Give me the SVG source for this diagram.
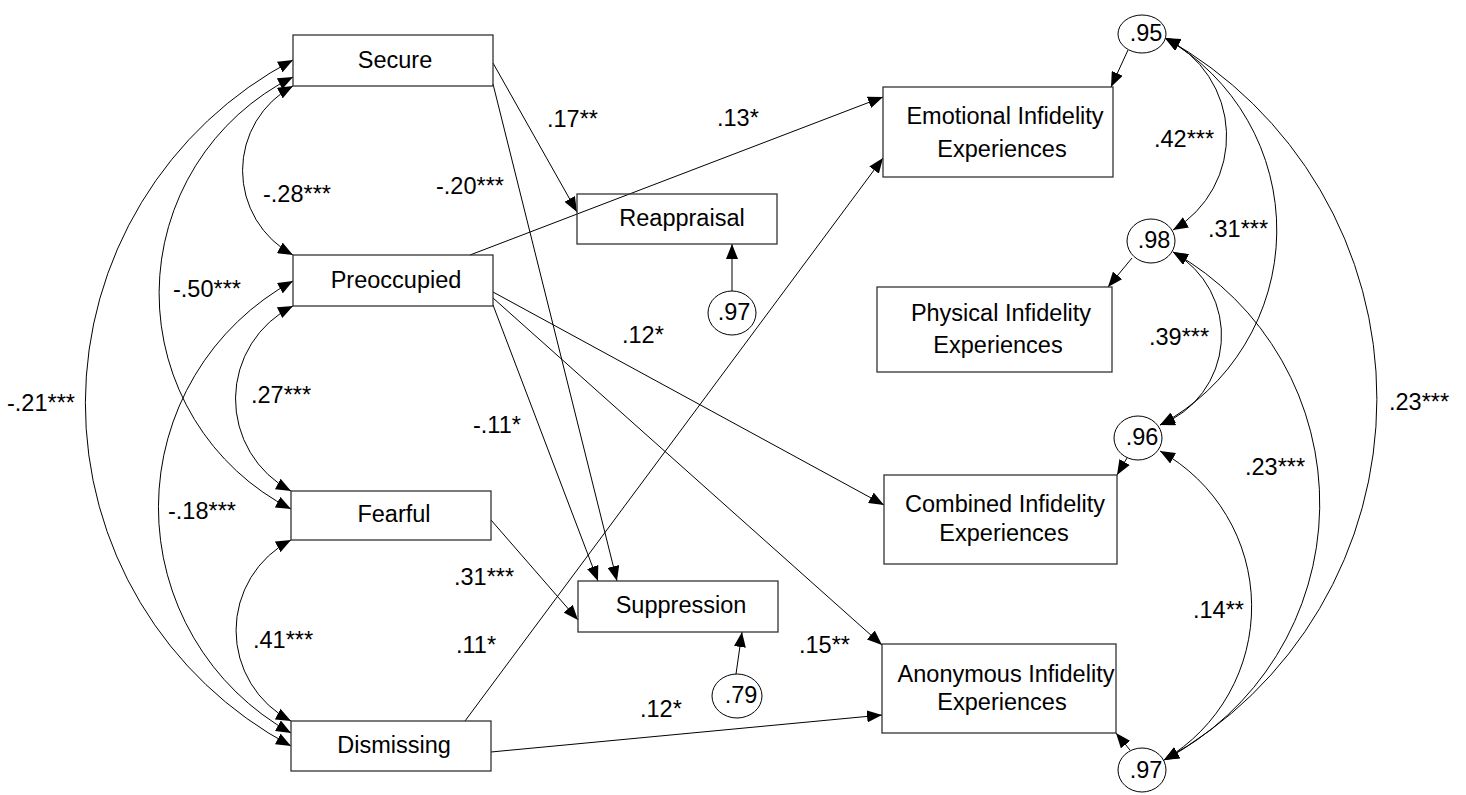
<svg xmlns="http://www.w3.org/2000/svg" width="1466" height="795" viewBox="0 0 1466 795">
<defs>
<marker id="ah" markerUnits="userSpaceOnUse" markerWidth="15" markerHeight="12" refX="15" refY="6" orient="auto-start-reverse">
<path d="M0,0 L15,6 L0,12 z" fill="#000"/>
</marker>
<style>
text{font-family:"Liberation Sans",Arial,sans-serif;font-size:23.5px;fill:#000}
.box{fill:none;stroke:#333;stroke-width:1.3}
.err{fill:#fff;stroke:#000;stroke-width:1}
.c{text-anchor:middle}
.one{fill:none;stroke:#000;stroke-width:1;marker-end:url(#ah)}
.two{fill:none;stroke:#000;stroke-width:1;marker-start:url(#ah);marker-end:url(#ah)}
</style>
</defs>
<rect width="1466" height="795" fill="#fff"/>
<g id="connectors">
<path class="two" d="M293,60 A388,388 0 0 0 291,746"/>
<path class="two" d="M293,77 A242,242 0 0 0 291,509"/>
<path class="two" d="M293,86 A96,96 0 0 0 293,255"/>
<path class="two" d="M293,281 A258,258 0 0 0 291,733"/>
<path class="two" d="M293,306 A104,104 0 0 0 291,491"/>
<path class="two" d="M291,540 A102,102 0 0 0 291,721"/>
<path class="two" d="M1165,38 A109,109 0 0 1 1173,230"/>
<path class="two" d="M1165,38 A221,221 0 0 1 1160,425"/>
<path class="two" d="M1165,38 A413,413 0 0 1 1164,760"/>
<path class="two" d="M1173,252 A96,96 0 0 1 1160,425"/>
<path class="two" d="M1173,252 A289,289 0 0 1 1164,760"/>
<path class="two" d="M1160,451 A178,178 0 0 1 1164,760"/>
<path class="one" d="M493,63 L577,212"/>
<path class="one" d="M493,84 L617,581"/>
<path class="one" d="M470,255 L883,97"/>
<path class="one" d="M493,305 L598,581"/>
<path class="one" d="M493,292 L884,505"/>
<path class="one" d="M493,298 L882,645"/>
<path class="one" d="M491,520 L578,620"/>
<path class="one" d="M465,721 L883,158"/>
<path class="one" d="M491,752 L882,715"/>
<path class="one" d="M732,291 L732,244"/>
<path class="one" d="M736,674 L742,632"/>
<path class="one" d="M1128,50 L1111,87"/>
<path class="one" d="M1132,258 L1108,287"/>
<path class="one" d="M1127,458 L1117,475"/>
<path class="one" d="M1130,750 L1116,733"/>
</g>
<g id="labels">
<text x="7" y="411">-.21***</text>
<text x="173" y="297">-.50***</text>
<text x="263" y="202">-.28***</text>
<text x="168" y="519">-.18***</text>
<text x="251" y="403">.27***</text>
<text x="253" y="648">.41***</text>
<text x="436" y="194">-.20***</text>
<text x="547" y="127">.17**</text>
<text x="717" y="126">.13*</text>
<text x="622" y="343">.12*</text>
<text x="473" y="433">-.11*</text>
<text x="454" y="585">.31***</text>
<text x="456" y="653">.11*</text>
<text x="640" y="717">.12*</text>
<text x="799" y="653">.15**</text>
<text x="1154" y="147">.42***</text>
<text x="1208" y="237">.31***</text>
<text x="1149" y="345">.39***</text>
<text x="1245" y="475">.23***</text>
<text x="1389" y="410">.23***</text>
<text x="1193" y="618">.14**</text>
</g>
<g id="secure"><rect class="box" x="293" y="35" width="200" height="51"/><text class="c" x="395" y="68">Secure</text></g>
<g id="preoccupied"><rect class="box" x="293" y="255" width="200" height="51"/><text class="c" x="396" y="288">Preoccupied</text></g>
<g id="fearful"><rect class="box" x="291" y="491" width="200" height="49"/><text class="c" x="394" y="522">Fearful</text></g>
<g id="dismissing"><rect class="box" x="291" y="721" width="200" height="50"/><text class="c" x="394" y="753">Dismissing</text></g>
<g id="reappraisal"><rect class="box" x="577" y="194" width="200" height="50"/><text class="c" x="682" y="226">Reappraisal</text></g>
<g id="suppression"><rect class="box" x="578" y="581" width="200" height="51"/><text class="c" x="681" y="613">Suppression</text></g>
<g id="e_reapp"><ellipse class="err" cx="732" cy="313" rx="24" ry="22"/><text class="c" x="734" y="320">.97</text></g>
<g id="e_supp"><ellipse class="err" cx="737" cy="696" rx="25" ry="22"/><text class="c" x="741" y="703">.79</text></g>
<g id="emotional"><rect class="box" x="883" y="87" width="230" height="90"/><text class="c" x="1005" y="124">Emotional Infidelity</text><text class="c" x="1002" y="157">Experiences</text></g>
<g id="physical"><rect class="box" x="877" y="287" width="235" height="85"/><text class="c" x="1001" y="321">Physical Infidelity</text><text class="c" x="998" y="353">Experiences</text></g>
<g id="combined"><rect class="box" x="884" y="475" width="233" height="89"/><text class="c" x="1005" y="512">Combined Infidelity</text><text class="c" x="1004" y="541">Experiences</text></g>
<g id="anonymous"><rect class="box" x="882" y="644" width="234" height="89"/><text class="c" x="1006" y="682">Anonymous Infidelity</text><text class="c" x="1002" y="710">Experiences</text></g>
<g id="e_emo"><ellipse class="err" cx="1142" cy="34" rx="24" ry="19"/><text class="c" x="1146" y="41">.95</text></g>
<g id="e_phy"><ellipse class="err" cx="1151" cy="241" rx="24" ry="22"/><text class="c" x="1154" y="248">.98</text></g>
<g id="e_com"><ellipse class="err" cx="1138" cy="438" rx="24" ry="22"/><text class="c" x="1142" y="445">.96</text></g>
<g id="e_ano"><ellipse class="err" cx="1142" cy="770" rx="24" ry="22"/><text class="c" x="1146" y="778">.97</text></g>
</svg>
